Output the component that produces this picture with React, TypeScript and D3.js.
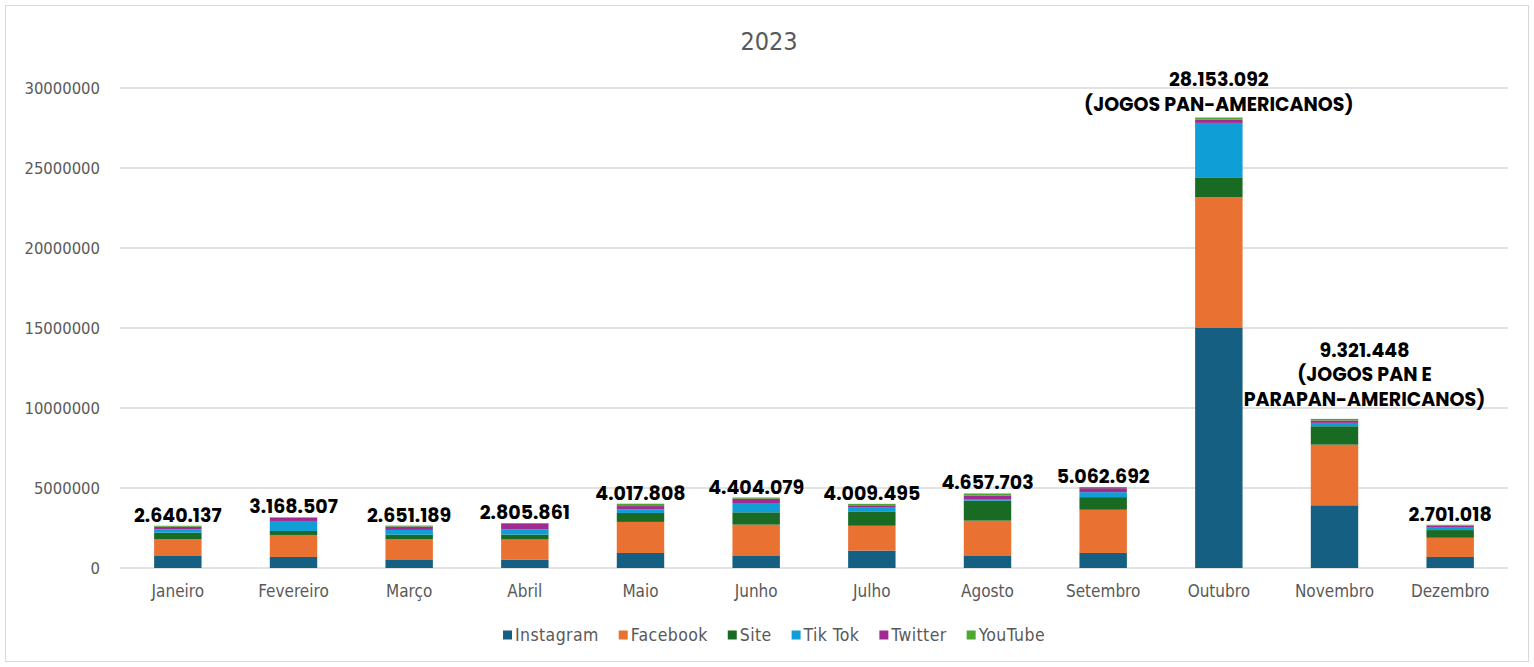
import { useEffect, useRef } from 'react';
import * as d3 from 'd3';

const months = ['Janeiro', 'Fevereiro', 'Março', 'Abril', 'Maio', 'Junho', 'Julho', 'Agosto', 'Setembro', 'Outubro', 'Novembro', 'Dezembro'];
const seriesNames = ['Instagram', 'Facebook', 'Site', 'Tik Tok', 'Twitter', 'YouTube'];
const seriesColors = ['#156082', '#E97132', '#196B24', '#0F9ED5', '#A02B93', '#4EA72E'];

// values per month
const instagram = [750000, 690000, 500000, 530000, 940000, 790000, 1090000, 790000, 940000, 15000000, 3920000, 690000];
const facebook = [1040000, 1375000, 1310000, 1250000, 1940000, 1920000, 1550000, 2170000, 2700000, 8170000, 3790000, 1200000];
const site = [420000, 250000, 270000, 310000, 560000, 770000, 900000, 1250000, 790000, 1210000, 1150000, 480000];
const tiktok = [210000, 625000, 300000, 310000, 220000, 580000, 230000, 60000, 310000, 3440000, 210000, 150000];
const twitter = [160000, 190000, 210000, 350000, 210000, 270000, 150000, 250000, 250000, 210000, 150000, 130000];
const youtube = [60000, 40000, 60000, 55000, 148000, 74000, 90000, 138000, 73000, 123000, 100000, 51000];

const totalLabels = ['2.640.137', '3.168.507', '2.651.189', '2.805.861', '4.017.808', '4.404.079', '4.009.495', '4.657.703', '5.062.692', '28.153.092', '9.321.448', '2.701.018'];
const notes: string[][] = [[], [], [], [], [], [], [], [], [], ['(JOGOS PAN-AMERICANOS)'], ['(JOGOS PAN E', 'PARAPAN-AMERICANOS)'], []];
const yTicks = [0, 5000000, 10000000, 15000000, 20000000, 25000000, 30000000];

const W = 1534;
const H = 667;

export default function App() {
  const svgRef = useRef<SVGSVGElement>(null);

  useEffect(() => {
    if (!svgRef.current) return;
    const svg = d3.select(svgRef.current);
    svg.selectAll('*').remove();

    const margin = { top: 88, right: 26, bottom: 99, left: 120 };
    const innerW = W - margin.left - margin.right;
    const innerH = H - margin.top - margin.bottom;
    const axisFont = '"DejaVu Sans Condensed", "Liberation Sans Narrow", sans-serif';
    const labelFont = 'Poppins, "Open Sans", sans-serif';

    // outer frame
    svg.append('rect')
      .attr('x', 5.5).attr('y', 5.5)
      .attr('width', W - 11).attr('height', H - 11)
      .attr('fill', '#fff')
      .attr('stroke', '#d9d9d9')
      .attr('stroke-width', 1);

    const x = d3.scaleBand().domain(months).range([0, innerW]).paddingInner(0.59).paddingOuter(0.295);
    const y = d3.scaleLinear().domain([0, 30000000]).range([innerH, 0]);

    const g = svg.append('g').attr('transform', `translate(${margin.left},${margin.top})`);

    // gridlines
    g.selectAll('.grid')
      .data(yTicks)
      .enter()
      .append('line')
      .attr('x1', 0).attr('x2', innerW)
      .attr('y1', d => y(d)).attr('y2', d => y(d))
      .attr('stroke', '#d9d9d9')
      .attr('stroke-width', 1.5);

    // y labels
    g.selectAll('.ytick')
      .data(yTicks)
      .enter()
      .append('text')
      .attr('x', -20)
      .attr('y', d => y(d))
      .attr('dy', '0.35em')
      .attr('text-anchor', 'end')
      .attr('font-family', axisFont)
      .attr('font-size', '16.5px')
      .attr('fill', '#595959')
      .text(d => String(d));

    // stacked bars
    const table = months.map((m, i) => ({
      month: m,
      Instagram: instagram[i],
      Facebook: facebook[i],
      Site: site[i],
      'Tik Tok': tiktok[i],
      Twitter: twitter[i],
      YouTube: youtube[i],
    }));
    const stack = d3.stack<any>().keys(seriesNames)(table);

    g.selectAll('.layer')
      .data(stack)
      .enter()
      .append('g')
      .attr('fill', (_, i) => seriesColors[i])
      .selectAll('rect')
      .data(d => d)
      .enter()
      .append('rect')
      .attr('x', d => x(d.data.month) || 0)
      .attr('y', d => y(d[1]))
      .attr('width', x.bandwidth())
      .attr('height', d => y(d[0]) - y(d[1]));

    // x labels
    g.selectAll('.xtick')
      .data(months)
      .enter()
      .append('text')
      .attr('x', d => (x(d) || 0) + x.bandwidth() / 2)
      .attr('y', innerH + 29)
      .attr('text-anchor', 'middle')
      .attr('font-family', axisFont)
      .attr('font-size', '17px')
      .attr('fill', '#595959')
      .text(d => d);

    // total labels with notes
    const top = stack[stack.length - 1];
    months.forEach((m, i) => {
      const cx = (x(m) || 0) + x.bandwidth() / 2 + (notes[i].length > 1 ? 30 : 0);
      const lines = [totalLabels[i], ...notes[i]];
      const gap = notes[i].length > 1 ? 13 : notes[i].length ? 7 : 4;
      const baseY = y(top[i][1]) - gap - (lines.length - 1) * 24.5;
      lines.forEach((t, k) => {
        g.append('text')
          .attr('x', cx)
          .attr('y', baseY + k * 24.5)
          .attr('text-anchor', 'middle')
          .attr('font-family', labelFont)
          .attr('font-weight', 700)
          .attr('font-size', '19px')
          .attr('fill', '#000')
          .text(t);
      });
    });

    // title
    svg.append('text')
      .attr('x', 769)
      .attr('y', 50)
      .attr('text-anchor', 'middle')
      .attr('font-family', axisFont)
      .attr('font-size', '25px')
      .attr('fill', '#595959')
      .text('2023');

    // legend, laid out from the measured text widths and centred
    const legend = svg.append('g').attr('transform', 'translate(0,635)');
    const items = seriesNames.map((name, i) => {
      const item = legend.append('g');
      item.append('rect')
        .attr('x', 0).attr('y', -4.5)
        .attr('width', 9).attr('height', 9)
        .attr('fill', seriesColors[i]);
      const txt = item.append('text')
        .attr('x', 12)
        .attr('y', 0)
        .attr('dy', '0.35em')
        .attr('font-family', axisFont)
        .attr('font-size', '17.5px')
        .attr('letter-spacing', '0.4px')
        .attr('fill', '#595959')
        .text(name);
      const w = 12 + (txt.node() as SVGTextElement).getComputedTextLength();
      return { item, w };
    });
    const gapL = 20;
    const totalW = d3.sum(items, d => d.w) + gapL * (items.length - 1);
    let cur = 774 - totalW / 2;
    items.forEach(d => {
      d.item.attr('transform', `translate(${cur},0)`);
      cur += d.w + gapL;
    });
  }, []);

  return (
    <svg
      ref={svgRef}
      width={W}
      height={H}
      style={{ position: 'absolute', left: 0, top: 0, display: 'block' }}
    />
  );
}
